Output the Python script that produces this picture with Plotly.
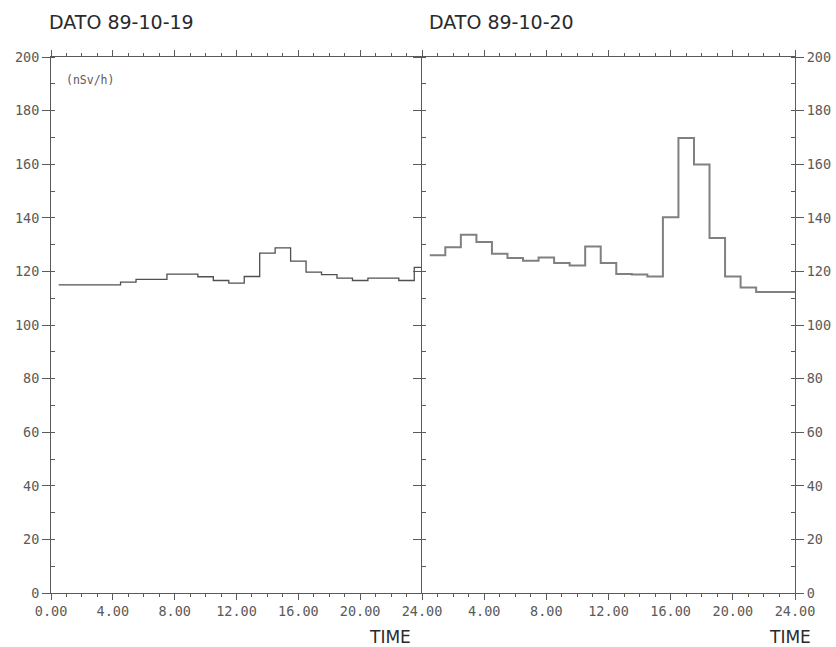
import plotly.graph_objects as go

# ---- data (hourly dose-rate averages, nSv/h) ----
hours = list(range(1, 25))
dose_19 = [115, 115, 115, 115, 116, 117, 117, 119, 119, 118, 116.6, 115.6,
           118.1, 126.8, 128.8, 123.8, 119.7, 118.8, 117.5, 116.6, 117.5, 117.5,
           116.6, 121.5]
dose_20 = [126, 129, 133.7, 131, 126.6, 125, 124, 125.2, 123.1, 122.2, 129.3,
           123.1, 119, 118.8, 118.1, 140.2, 169.8, 159.9, 132.5, 118.1, 114,
           112.3, 112.3, 112.3]
xtick_vals = [0, 4, 8, 12, 16, 20, 24]
xtick_text_left = ["0.00", "4.00", "8.00", "12.00", "16.00", "20.00", "24.00"]
xtick_text_right = ["", "4.00", "8.00", "12.00", "16.00", "20.00", "24.00"]
ytick_vals = list(range(0, 201, 20))
titles = ["DATO 89-10-19", "DATO 89-10-20"]
unit_label = "(nSv/h)"
x_label = "TIME"

W, H = 836, 647


def px_x(p):
    return p / W


def px_y(p):
    return 1 - p / H


# step edges: each hourly value spans hour-0.5 .. hour+0.5
edges = [h - 0.5 for h in hours] + [hours[-1] + 0.5]

fig = go.Figure()
fig.add_trace(go.Scatter(x=edges, y=dose_19 + [dose_19[-1]], mode="lines",
                         line=dict(shape="hv", color="#505050", width=1.3),
                         xaxis="x", yaxis="y", showlegend=False))
fig.add_trace(go.Scatter(x=edges, y=dose_20 + [dose_20[-1]], mode="lines",
                         line=dict(shape="hv", color="#808080", width=2),
                         xaxis="x2", yaxis="y2", showlegend=False))

axcol = "#5a5a5a"
tickfont = dict(family="DejaVu Sans Mono", size=13.5, color="#5a5a5a")

xcommon = dict(range=[0, 24], tickvals=xtick_vals,
               ticks="outside", ticklen=6, tickcolor=axcol, tickwidth=1,
               showline=True, linecolor=axcol, linewidth=1, mirror="ticks",
               showgrid=False, zeroline=False, tickfont=tickfont,
               automargin=False,
               minor=dict(dtick=1, ticks="outside", ticklen=3,
                          tickcolor=axcol, showgrid=False))

ycommon = dict(range=[0, 200], tickvals=ytick_vals, ticks="outside",
               ticklen=8, tickcolor=axcol, tickwidth=1, showline=True,
               linecolor=axcol, linewidth=1, showgrid=False, zeroline=False,
               tickfont=tickfont, automargin=False,
               minor=dict(dtick=10, ticks="inside", ticklen=4,
                          tickcolor=axcol, showgrid=False))

x0, xm, x1 = 51, 422, 795
ytop, ybot = 57, 593
ydom = [px_y(ybot), px_y(ytop)]

fig.update_layout(
    width=W, height=H,
    margin=dict(l=0, r=0, t=0, b=0, autoexpand=False),
    paper_bgcolor="white", plot_bgcolor="white",
    xaxis=dict(**xcommon, ticktext=xtick_text_left, anchor="y",
               domain=[px_x(x0), px_x(xm)]),
    xaxis2=dict(**xcommon, ticktext=xtick_text_right, anchor="y2",
                domain=[px_x(xm), px_x(x1)]),
    yaxis=dict(**ycommon, domain=ydom, anchor="x", side="left", mirror=False),
    yaxis2=dict(**ycommon, domain=ydom, anchor="x2", side="right",
                mirror="ticks"),
)

annotations = [
    dict(text=titles[0], x=px_x(47), y=px_y(22), xanchor="left",
         yanchor="middle", font=dict(family="DejaVu Sans", size=19,
                                     color="#2a2a2a")),
    dict(text=titles[1], x=px_x(427), y=px_y(22), xanchor="left",
         yanchor="middle", font=dict(family="DejaVu Sans", size=19,
                                     color="#2a2a2a")),
    dict(text=unit_label, x=px_x(64), y=px_y(80), xanchor="left",
         yanchor="middle", font=dict(family="DejaVu Sans Mono", size=11.5,
                                     color="#5a5a5a")),
    dict(text=x_label, x=px_x(413), y=px_y(637), xanchor="right",
         yanchor="middle", font=dict(family="DejaVu Sans", size=17,
                                     color="#2a2a2a")),
    dict(text=x_label, x=px_x(813), y=px_y(637), xanchor="right",
         yanchor="middle", font=dict(family="DejaVu Sans", size=17,
                                     color="#2a2a2a")),
]
for a in annotations:
    a.update(xref="paper", yref="paper", showarrow=False)
fig.update_layout(annotations=annotations)

fig.write_html("out.html")
